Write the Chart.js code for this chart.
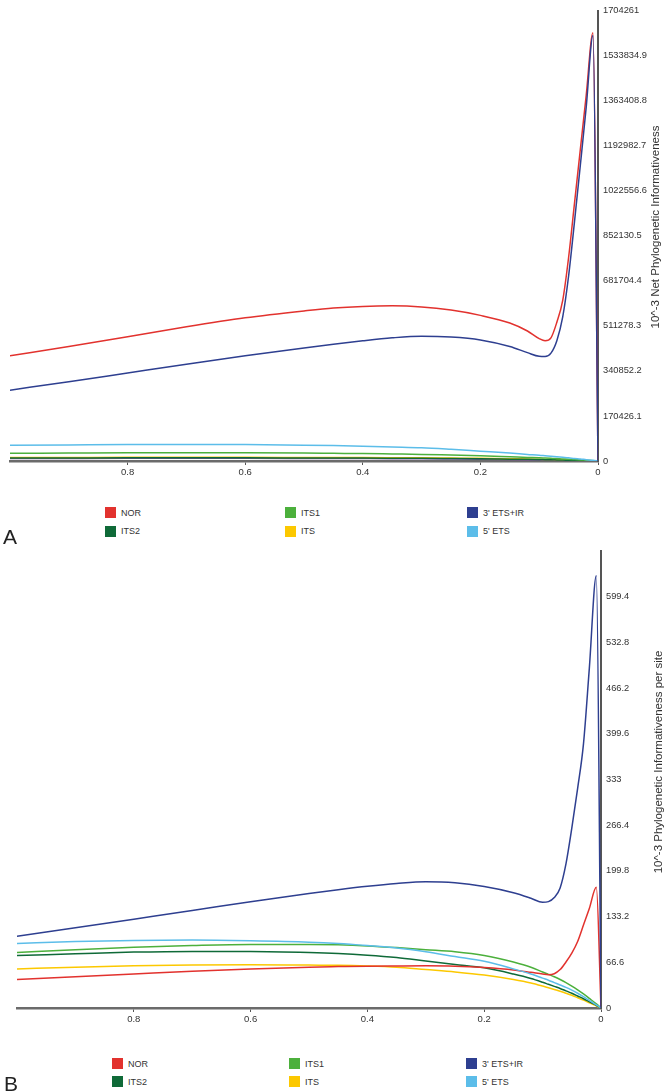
<!DOCTYPE html>
<html><head><meta charset="utf-8">
<script src="https://cdn.jsdelivr.net/npm/chart.js@4.4.0/dist/chart.umd.min.js"></script>
<style>
html,body{margin:0;padding:0;background:#fff;}
body{width:666px;height:1092px;position:relative;overflow:hidden;font-family:"Liberation Sans",Arial,sans-serif;}
.wrap{position:absolute;left:0;width:666px;}
.ytitle{position:absolute;white-space:nowrap;font-size:11.5px;color:#333;transform:translate(-50%,-50%) rotate(-90deg);}
.leg{position:absolute;font-size:9px;color:#333;display:flex;align-items:center;white-space:nowrap;height:11px;}
.leg i{display:inline-block;width:11px;height:11px;margin-right:5px;}
.panel{position:absolute;font-size:21px;color:#222;line-height:21px;}
</style></head><body>
<div class="wrap" style="top:0;height:485px"><canvas id="cA" width="666" height="485"></canvas></div>
<div class="wrap" style="top:540px;height:490px"><canvas id="cB" width="666" height="490"></canvas></div>
<div class="ytitle" style="left:655px;top:227px">10^-3 Net Phylogenetic Informativeness</div>
<div class="ytitle" style="left:657.5px;top:762px">10^-3 Phylogenetic Informativeness per site</div>
<div class="panel" style="left:3px;top:526px">A</div>
<div class="panel" style="left:4px;top:1073px">B</div>
<div id="legA"></div><div id="legB"></div>
<script>
// ---- data ----
const seriesNames = ['NOR', 'ITS1', "3' ETS+IR", 'ITS2', 'ITS', "5' ETS"];
const seriesColors = ['#e2322e', '#4cb03c', '#2e3f90', '#0f6a38', '#fcc800', '#5cbde9'];
const extraColor = '#7b4b9b';

const xTickValues = [0, 0.2, 0.4, 0.6, 0.8];
const xTickLabels = ['0', '0.2', '0.4', '0.6', '0.8'];

const yTickLabelsA = ['0','170426.1','340852.2','511278.3','681704.4','852130.5','1022556.6','1192982.7','1363408.8','1533834.9','1704261'];
const yTickLabelsB = ['0','66.6','133.2','199.8','266.4','333','399.6','466.2','532.8','599.4'];

const xA = [1.0,0.9,0.8,0.7,0.6,0.5,0.45,0.4,0.35,0.3,0.25,0.2,0.15,0.12,0.1,0.09,0.08,0.07,0.06,0.05,0.04,0.03,0.02,0.0085,0];
const norA  = [398000,433000,470000,508000,542000,568000,579000,585000,587000,583000,571000,551000,522000,492000,463000,455000,466000,525000,608000,770000,975000,1180000,1385000,1620000,0];
const its1A = [29000,30000,31000,31500,31000,30000,29000,28000,26500,25000,22500,20000,16000,13500,12000,11000,10000,9000,7800,6500,5300,4000,2800,1200,0];
const ets3A = [268000,300000,333000,366000,398000,428000,442000,455000,466000,472000,469000,458000,433000,410000,396000,395000,408000,455000,545000,700000,905000,1120000,1340000,1610000,0];
const its2A = [11000,11500,12000,12000,12000,11500,11300,11000,10500,10000,9200,8300,7000,6200,5500,5000,4600,4100,3600,3000,2400,1800,1200,500,0];
const itsA  = [13000,13500,14000,14000,14000,13500,13300,13000,12500,12000,11000,10000,8500,7500,6500,6000,5500,5000,4300,3600,2900,2200,1500,700,0];
const ets5A = [60000,61000,62000,62500,62000,60000,58500,56000,53000,50000,44000,37000,30000,25000,22000,20000,18000,16000,14000,12000,9500,7500,5000,2500,0];
const extraA = [9500,9800,10000,10000,10000,9700,9500,9200,8800,8300,7600,6800,5800,5100,4500,4100,3700,3300,2900,2400,1900,1400,950,400,0];

const xB = [1.0,0.9,0.8,0.7,0.6,0.5,0.45,0.4,0.35,0.3,0.25,0.2,0.15,0.12,0.1,0.09,0.08,0.07,0.06,0.05,0.04,0.03,0.02,0.008,0];
const norB  = [41.5,45.5,49.5,53.5,57,59.5,60.3,61,61.3,61.5,61,59,55.5,52,49.5,48.5,50,56,67,80,97,121,145,176,0];
const its1B = [81,85,88.5,91,92.5,92.5,92,90.5,88,85,82,76.5,67,59.5,52.5,49,45.5,41.5,37,32,26.5,20.5,14,6,0];
const ets3B = [104.5,117,129.5,142,155,167,172.5,177.5,181.5,184,182.5,177,168,160,154,155,161,175,210,262,320,385,495,630,0];
const its2B = [76.5,79,81.5,82.5,82.5,81,79.5,77,73.5,68.5,63.5,58.5,49.5,43,37.5,34.5,31.5,28.5,25,21.5,17.5,13.5,9,4,0];
const itsB  = [57,59.5,61.5,62.5,63,62.5,62.3,61.3,59.5,56,52.5,48,41.5,36.5,32,29.5,27,24.5,21.5,18.5,15,11.5,7.5,3,0];
const ets5B = [94,97,98.5,99,98,96,94,91,87.5,82,75,68,57,49.5,43.5,40.5,37,33.5,30,26,21.5,16.5,11,4.5,0];

// ---- build ----
Chart.defaults.font.family = '"Liberation Sans", Arial, sans-serif';

function ds(label, xs, vals, color, order) {
  return {
    label, data: xs.map((x, i) => ({x, y: vals[i]})),
    borderColor: color, backgroundColor: color, borderWidth: 1.5,
    pointRadius: 0, cubicInterpolationMode: 'monotone', fill: false, order
  };
}

function makeChart(id, datasets, yLabels, yMax, padTop, padLeft, yWidth, xHeight) {
  const yVals = yLabels.map(Number);
  return new Chart(document.getElementById(id), {
    type: 'line',
    data: { datasets },
    options: {
      responsive: false, animation: false,
      layout: { padding: { top: padTop, left: padLeft, right: 0, bottom: 0 } },
      plugins: { legend: { display: false }, tooltip: { enabled: false } },
      scales: {
        x: {
          type: 'linear', reverse: true, min: 0, max: 1,
          afterBuildTicks: s => { s.ticks = xTickValues.map(v => ({ value: v })); },
          afterFit: s => { s.height = xHeight; },
          ticks: { autoSkip: false, maxRotation: 0, color: '#333', font: { size: 9.5 }, padding: 2,
                   callback: v => xTickLabels[xTickValues.indexOf(v)] },
          grid: { drawOnChartArea: false, drawTicks: true, tickLength: 4, color: '#555', lineWidth: 1 },
          border: { display: true, color: '#6b6b6b', width: 2.5 }
        },
        y: {
          type: 'linear', position: 'right', min: 0, max: yMax,
          afterBuildTicks: s => { s.ticks = yVals.map(v => ({ value: v })); },
          afterFit: s => { s.width = yWidth; },
          ticks: { autoSkip: false, color: '#333', font: { size: 9.3 }, padding: 5,
                   callback: v => yLabels[yVals.indexOf(v)] },
          grid: { display: false, drawTicks: false },
          border: { display: true, color: '#555', width: 2 }
        }
      }
    }
  });
}

const orders = [2, 3, 0, 4, 5, 1];
const dataA = [norA, its1A, ets3A, its2A, itsA, ets5A];
const dataB = [norB, its1B, ets3B, its2B, itsB, ets5B];
const dsA = seriesNames.map((n, i) => ds(n, xA, dataA[i], seriesColors[i], orders[i]));
dsA.push(ds('', xA, extraA, extraColor, 6));
const dsB = seriesNames.map((n, i) => ds(n, xB, dataB[i], seriesColors[i], orders[i]));

makeChart('cA', dsA, yTickLabelsA, 1704261, 9, 10, 68, 24);
makeChart('cB', dsB, yTickLabelsB, 666, 11, 17, 65, 22);

function legend(elId, cols, rows) {
  const el = document.getElementById(elId);
  seriesNames.forEach((n, i) => {
    const d = document.createElement('div');
    d.className = 'leg';
    d.style.left = cols[i % 3] + 'px';
    d.style.top = rows[Math.floor(i / 3)] + 'px';
    const b = document.createElement('i');
    b.style.background = seriesColors[i];
    d.appendChild(b);
    d.appendChild(document.createTextNode(n));
    el.appendChild(d);
  });
}
legend('legA', [105, 285, 467], [507, 525.5]);
legend('legB', [112, 289, 466], [1058, 1076]);
</script>
</body></html>
